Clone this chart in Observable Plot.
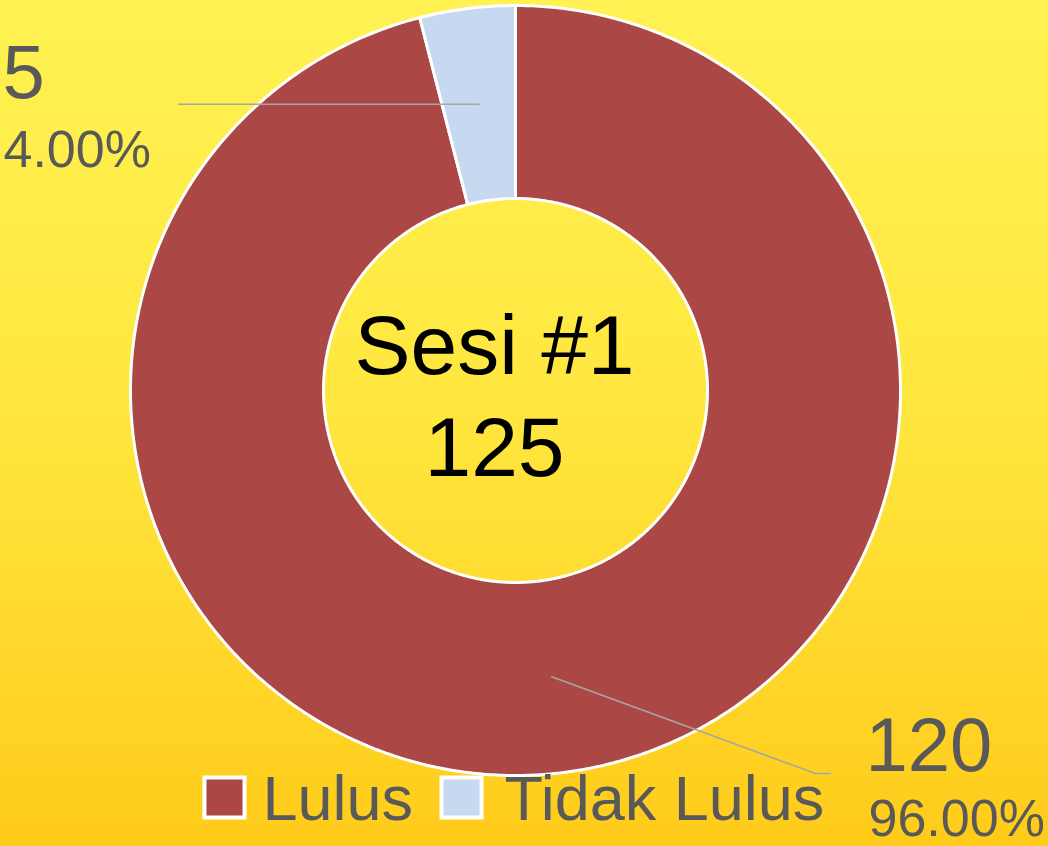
<!DOCTYPE html>
<html>
<head>
<meta charset="utf-8">
<script src="https://cdn.jsdelivr.net/npm/d3@7"></script>
<script src="https://cdn.jsdelivr.net/npm/@observablehq/plot@0.6"></script>
<style>
html, body { margin: 0; padding: 0; }
body {
  width: 1048px; height: 846px; overflow: hidden;
  background: linear-gradient(to bottom, #FFF252 0%, #FFE63E 50%, #FFCB1A 100%);
  font-family: "Liberation Sans", Arial, sans-serif;
}
</style>
</head>
<body>
<div id="chart"></div>
<script>
// ---- data ----
const categories = ["Lulus", "Tidak Lulus"];
const values = [120, 5];
const colors = ["#AB4744", "#C6D9F1"];
const centerLines = ["Sesi #1", "125"];

// ---- layout ----
const W = 1048, H = 846;
const CX = 515, CY = 390, R = 385, R0 = 192;
const TEXT = "#595959";

const rows = categories.map((c, i) => ({category: c, value: values[i]}));
const total = d3.sum(values);
const arcs = d3.pie().sort(null).value(d => d.value)(rows);

// slice outlines built from pie angles
const slicePts = [];
for (const a of arcs) {
  const n = Math.max(2, Math.ceil((a.endAngle - a.startAngle) / (Math.PI / 360)));
  for (let k = 0; k <= n; k++) {
    const t = a.startAngle + (a.endAngle - a.startAngle) * k / n;
    slicePts.push({category: a.data.category, x: CX + R * Math.sin(t), y: CY - R * Math.cos(t)});
  }
  for (let k = n; k >= 0; k--) {
    const t = a.startAngle + (a.endAngle - a.startAngle) * k / n;
    slicePts.push({category: a.data.category, x: CX + R0 * Math.sin(t), y: CY - R0 * Math.cos(t)});
  }
}

// label placement per slice (layout)
const labelLayout = {
  "Lulus":       {vx: 865, vy: 770, px: 868, py: 835, elbow: [815, 773], end: [830, 773]},
  "Tidak Lulus": {vx: 2,   vy: 97,  px: 3,   py: 166, elbow: null,       end: [178, null]}
};

const leaders = [];
const valueLabels = [];
for (const a of arcs) {
  const mid = (a.startAngle + a.endAngle) / 2;
  const rm = (R + R0) / 2;
  const c = {x: CX + rm * Math.sin(mid), y: CY - rm * Math.cos(mid)};
  const L = labelLayout[a.data.category];
  leaders.push({category: a.data.category, x: c.x, y: c.y});
  if (L.elbow) leaders.push({category: a.data.category, x: L.elbow[0], y: L.elbow[1]});
  leaders.push({category: a.data.category, x: L.end[0], y: L.end[1] ?? c.y});
  valueLabels.push({
    category: a.data.category,
    value: String(a.data.value),
    pct: d3.format(".2%")(a.data.value / total),
    vx: L.vx, vy: L.vy, px: L.px, py: L.py
  });
}

const centerText = centerLines.map((t, i) => ({t, x: CX - 21, y: 373 + i * 102}));

const legend = [
  {category: categories[0], sx: 224, tx: 262},
  {category: categories[1], sx: 461, tx: 504}
];

const chart = Plot.plot({
  width: W, height: H, margin: 0,
  x: {domain: [0, W], range: [0, W], axis: null},
  y: {domain: [0, H], range: [0, H], axis: null},
  color: {domain: categories, range: colors},
  style: {background: "transparent", fontFamily: "'Liberation Sans', Arial, sans-serif", overflow: "visible"},
  marks: [
    Plot.line(slicePts, {x: "x", y: "y", z: "category", fill: "category", stroke: "white", strokeWidth: 3, curve: "linear-closed"}),
    Plot.line(leaders, {x: "x", y: "y", z: "category", stroke: "#A6A6A6", strokeWidth: 1.5}),
    Plot.text(centerText, {x: "x", y: "y", text: "t", fontSize: 84, fill: "black", textAnchor: "middle", lineAnchor: "bottom"}),
    Plot.text(valueLabels, {x: "vx", y: "vy", text: "value", fontSize: 76, fill: TEXT, textAnchor: "start", lineAnchor: "bottom"}),
    Plot.text(valueLabels, {x: "px", y: "py", text: "pct", fontSize: 52, fill: TEXT, textAnchor: "start", lineAnchor: "bottom"}),
    Plot.dot(legend, {x: "sx", y: 797, symbol: "square", r: 22.6, fill: "category", stroke: "white", strokeWidth: 4}),
    Plot.text(legend, {x: "tx", y: 819, text: "category", fontSize: 63, fill: TEXT, textAnchor: "start", lineAnchor: "bottom"})
  ]
});
document.getElementById("chart").appendChild(chart);
</script>
</body>
</html>
